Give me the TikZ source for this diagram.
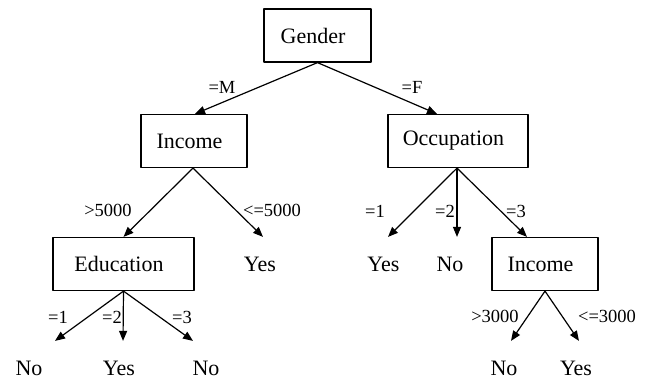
\documentclass[tikz,border=0pt]{standalone}
\usepackage{fontspec}
\setmainfont{Liberation Serif}
\usetikzlibrary{arrows.meta}
\begin{document}
\begin{tikzpicture}[x=1pt, y=-1pt, line join=round, line width=1.2pt, >={Triangle[length=10pt,width=8pt]}]
	\tikzset{box/.style={draw, minimum height=53pt, inner sep=0pt, font=\fontsize{22}{24}\selectfont, execute at begin node={\hspace*{-9pt}}},
		leaf/.style={draw=none, minimum height=53pt, inner sep=0pt, font=\fontsize{22}{24}\selectfont, minimum width=30pt},
		cond/.style={font=\fontsize{18.5}{20}\selectfont, inner sep=0pt}}
	\useasboundingbox (0,0) rectangle (648,383);
	% tree nodes
	\node[box, minimum width=107pt] (gender) at (317.5,35.5) {Gender};
	\node[box, minimum width=106pt] (inc) at (194,141) {Income};
	\node[box, minimum width=140pt] (occ) at (458,141) {Occupation};
	\node[box, minimum width=141pt] (edu) at (123.5,264) {Education};
	\node[box, minimum width=106pt] (inc2) at (545,264) {Income};
	% leaves
	\node[leaf] (yes1) at (260,264) {Yes};
	\node[leaf] (yes2) at (383.5,264) {Yes};
	\node[leaf] (no2) at (450,264) {No};
	\node[leaf] (no3) at (29,368) {No};
	\node[leaf] (yes3) at (119,368) {Yes};
	\node[leaf] (no4) at (206,368) {No};
	\node[leaf] (no5) at (504,368) {No};
	\node[leaf] (yes5) at (576,368) {Yes};
	% branches
	\draw[->] (gender.south) -- ([xshift=1pt]inc.north);
	\draw[->] (gender.south) -- ([xshift=-21pt]occ.north);
	\draw[->] ([xshift=-1pt]inc.south) -- (edu.north);
	\draw[->] ([xshift=-1pt]inc.south) -- ([xshift=3pt]yes1.north);
	\draw[->] ([xshift=-1pt]occ.south) -- ([xshift=4.5pt]yes2.north);
	\draw[->] ([xshift=-1pt]occ.south) -- ([xshift=7pt]no2.north);
	\draw[->] ([xshift=-1pt]occ.south) -- ([xshift=-18pt]inc2.north);
	\draw[->] (edu.south) -- ([xshift=26pt]no3.north);
	\draw[->] (edu.south) -- ([xshift=4pt]yes3.north);
	\draw[->] (edu.south) -- ([xshift=-13pt]no4.north);
	\draw[->] (inc2.south) -- ([xshift=7pt]no5.north);
	\draw[->] (inc2.south) -- ([xshift=3pt]yes5.north);
	% branch labels
	\node[cond] (lm) at (222,87) {=M};
	\node[cond] (lf) at (412,87) {=F};
	\node[cond] (lgt5) at (108,210) {>5000};
	\node[cond] (lle5) at (272,210) {<=5000};
	\node[cond] (lo1) at (375,211) {=1};
	\node[cond] (lo2) at (445,211) {=2};
	\node[cond] (lo3) at (516,211) {=3};
	\node[cond] (le1) at (58,317) {=1};
	\node[cond] (le2) at (112,317) {=2};
	\node[cond] (le3) at (182,317) {=3};
	\node[cond] (lgt3) at (495,316) {>3000};
	\node[cond] (lle3) at (607,316) {<=3000};
\end{tikzpicture}
\end{document}
